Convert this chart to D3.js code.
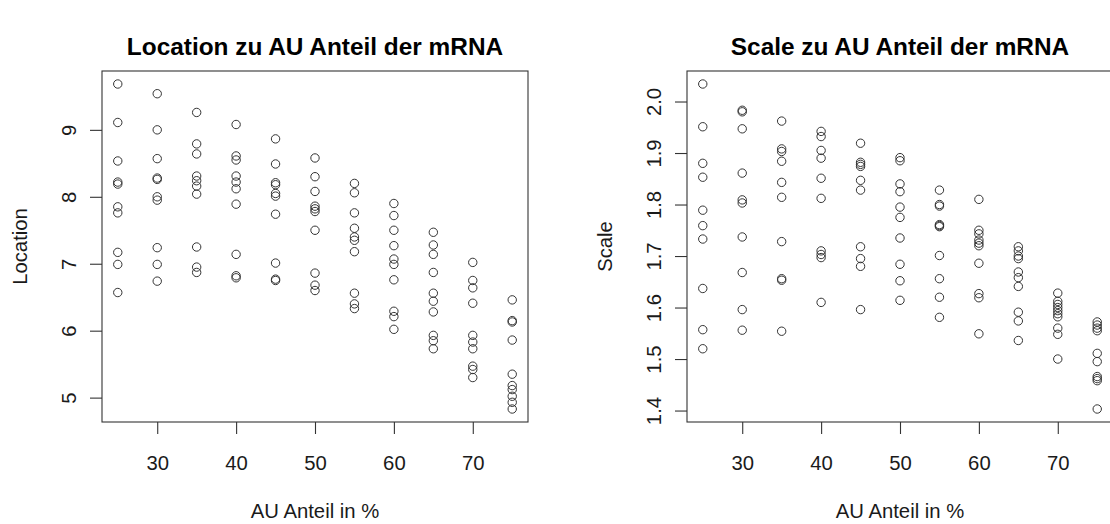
<!DOCTYPE html>
<html>
<head>
<meta charset="utf-8">
<script src="https://cdn.jsdelivr.net/npm/d3@7"></script>
<style>
  html, body { margin: 0; padding: 0; background: #fff; }
  svg { display: block; font-family: "Liberation Sans", Arial, sans-serif; }
  .axis text { font-size: 20.3px; fill: #1a1a1a; }
  .axis line { stroke: #333; stroke-width: 1.1; }
</style>
</head>
<body>
<div id="chart"></div>
<script>
// AU share groups (x) and the values read per group
const auShare = [25, 30, 35, 40, 45, 50, 55, 60, 65, 70, 75];

const locationValues = [
  [9.685, 9.11, 8.535, 8.22, 8.19, 7.85, 7.76, 7.17, 6.99, 6.57],
  [9.54, 9.0, 8.57, 8.28, 8.26, 8.0, 7.95, 7.24, 6.99, 6.74],
  [9.26, 8.79, 8.64, 8.31, 8.24, 8.16, 8.04, 7.25, 6.95, 6.87],
  [9.08, 8.61, 8.55, 8.31, 8.22, 8.12, 7.89, 7.14, 6.82, 6.79],
  [8.865, 8.49, 8.21, 8.18, 8.05, 8.01, 7.74, 7.01, 6.77, 6.75],
  [8.58, 8.30, 8.08, 7.86, 7.82, 7.78, 7.50, 6.86, 6.68, 6.60],
  [8.20, 8.06, 7.76, 7.53, 7.40, 7.35, 7.18, 6.56, 6.40, 6.33],
  [7.90, 7.72, 7.50, 7.27, 7.07, 6.99, 6.76, 6.29, 6.21, 6.02],
  [7.47, 7.28, 7.14, 6.87, 6.56, 6.44, 6.28, 5.93, 5.85, 5.73],
  [7.02, 6.75, 6.64, 6.41, 5.93, 5.83, 5.73, 5.47, 5.42, 5.30],
  [6.46, 6.15, 6.13, 5.86, 5.35, 5.18, 5.12, 5.02, 4.93, 4.83]
];

const scaleValues = [
  [2.034, 1.951, 1.880, 1.853, 1.789, 1.759, 1.733, 1.637, 1.557, 1.520],
  [1.983, 1.980, 1.947, 1.861, 1.809, 1.803, 1.737, 1.668, 1.596, 1.556],
  [1.962, 1.908, 1.903, 1.884, 1.843, 1.814, 1.728, 1.656, 1.653, 1.554],
  [1.942, 1.932, 1.905, 1.890, 1.851, 1.812, 1.710, 1.703, 1.697, 1.610],
  [1.919, 1.882, 1.878, 1.874, 1.847, 1.828, 1.718, 1.695, 1.680, 1.596],
  [1.891, 1.885, 1.840, 1.825, 1.795, 1.775, 1.735, 1.684, 1.652, 1.614],
  [1.828, 1.800, 1.797, 1.761, 1.759, 1.757, 1.701, 1.656, 1.620, 1.581],
  [1.810, 1.750, 1.743, 1.731, 1.725, 1.720, 1.686, 1.627, 1.619, 1.549],
  [1.718, 1.710, 1.700, 1.695, 1.669, 1.658, 1.641, 1.591, 1.574, 1.536],
  [1.628, 1.612, 1.606, 1.600, 1.594, 1.588, 1.582, 1.560, 1.548, 1.500],
  [1.572, 1.566, 1.560, 1.555, 1.511, 1.495, 1.466, 1.462, 1.458, 1.403]
];

const xTicks = [30, 40, 50, 60, 70];
const locationTicks = [5, 6, 7, 8, 9];
const scaleTicks = [1.4, 1.5, 1.6, 1.7, 1.8, 1.9, 2.0];

const W = 1110, H = 524;
const plotW = 426, plotH = 351, plotTop = 71;

const svg = d3.select("#chart").append("svg")
  .attr("width", W).attr("height", H)
  .attr("viewBox", `0 0 ${W} ${H}`);
svg.append("rect").attr("width", W).attr("height", H).attr("fill", "#fff");

// R-style range: data extent padded by 4% on each side
const padExtent = (vals) => {
  const [lo, hi] = d3.extent(vals);
  const p = (hi - lo) * 0.04;
  return [lo - p, hi + p];
};

function drawPanel(left, title, yLabel, values, yTicks, yFmt) {
  const g = svg.append("g").attr("transform", `translate(${left},${plotTop})`);
  const pts = values.flatMap((arr, i) => arr.map(v => ({ au: auShare[i], v })));

  const x = d3.scaleLinear().domain(padExtent(auShare)).range([0, plotW]);
  const y = d3.scaleLinear().domain(padExtent(pts.map(d => d.v))).range([plotH, 0]);

  // x axis
  const gx = g.append("g").attr("class", "axis")
    .attr("transform", `translate(0,${plotH})`)
    .call(d3.axisBottom(x).tickValues(xTicks).tickSize(12).tickSizeOuter(0));
  gx.select(".domain").remove();
  gx.selectAll("text").attr("y", 48).attr("dy", null);

  // y axis, labels parallel to the axis like R
  const gy = g.append("g").attr("class", "axis")
    .call(d3.axisLeft(y).tickValues(yTicks).tickFormat(yFmt).tickSize(12).tickSizeOuter(0));
  gy.select(".domain").remove();
  gy.selectAll("text")
    .attr("x", null).attr("dy", null)
    .attr("text-anchor", "middle")
    .attr("transform", "translate(-26,0) rotate(-90)");

  g.append("rect")
    .attr("width", plotW).attr("height", plotH)
    .attr("fill", "none").attr("stroke", "#333").attr("stroke-width", 1.1);

  g.selectAll(".pt")
    .data(pts)
    .join("circle")
    .attr("class", "pt")
    .attr("cx", d => x(d.au))
    .attr("cy", d => y(d.v))
    .attr("r", 4.2)
    .attr("fill", "none")
    .attr("stroke", "#333")
    .attr("stroke-width", 1);

  g.append("text")
    .attr("x", plotW / 2).attr("y", -16)
    .attr("text-anchor", "middle")
    .attr("font-size", 24.4).attr("font-weight", "bold").attr("fill", "#000")
    .text(title);

  g.append("text")
    .attr("x", plotW / 2).attr("y", plotH + 96)
    .attr("text-anchor", "middle")
    .attr("font-size", 20.3).attr("fill", "#1a1a1a")
    .text("AU Anteil in %");

  g.append("text")
    .attr("transform", `translate(-75,${plotH / 2}) rotate(-90)`)
    .attr("text-anchor", "middle")
    .attr("font-size", 20.3).attr("fill", "#1a1a1a")
    .text(yLabel);
}

drawPanel(102, "Location zu AU Anteil der mRNA", "Location", locationValues, locationTicks, d3.format("d"));
drawPanel(687, "Scale zu AU Anteil der mRNA", "Scale", scaleValues, scaleTicks, d3.format(".1f"));
</script>
</body>
</html>
